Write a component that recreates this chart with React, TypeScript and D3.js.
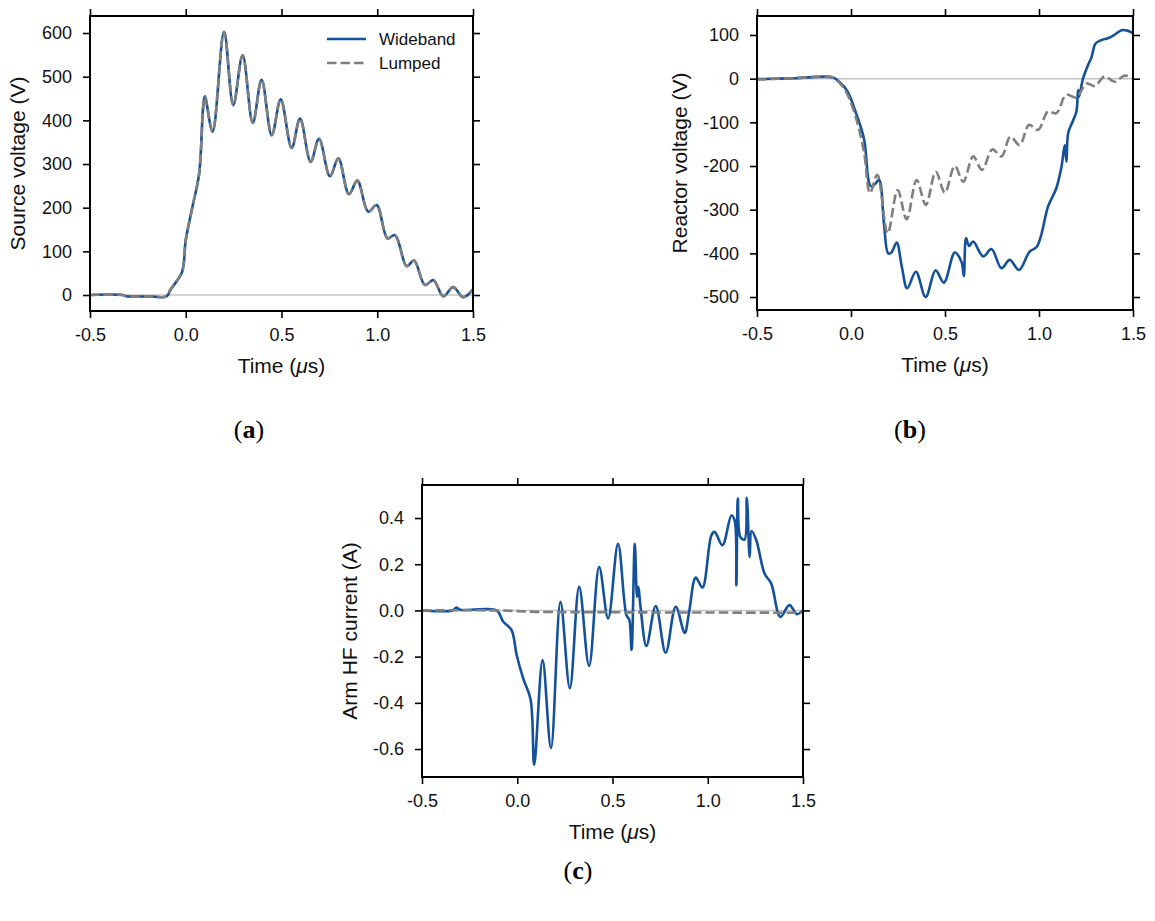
import { useEffect, useRef } from "react";
import type { JSX } from "react";
import * as d3 from "d3";

type Pt = [number, number];

// time in microseconds
const timeTicks = [-0.5, 0, 0.5, 1, 1.5];

const sourceTicks = [0, 100, 200, 300, 400, 500, 600];
const sourceWideband: Pt[] = [
  [-0.5, 0], [-0.33, 0], [-0.31, -3], [-0.2, -3], [-0.1, -3],
  [-0.08, 12], [-0.02, 52], [0.0, 126], [0.035, 202], [0.07, 278],
  [0.091, 431], [0.1, 455], [0.14, 374], [0.2, 603], [0.248, 435],
  [0.297, 549], [0.35, 394], [0.396, 493], [0.449, 366], [0.496, 448],
  [0.553, 337], [0.597, 404], [0.652, 305], [0.696, 358], [0.753, 272],
  [0.797, 313], [0.852, 231], [0.896, 262], [0.953, 191], [0.997, 206],
  [1.053, 130], [1.093, 137], [1.154, 66], [1.192, 79], [1.249, 23],
  [1.293, 34], [1.345, -3], [1.397, 18], [1.449, -5], [1.5, 13],
];
const sourceLumped: Pt[] = sourceWideband.map(([t, v]) => [t, v]);

const reactorTicks = [-500, -400, -300, -200, -100, 0, 100];
const reactorWideband: Pt[] = [
  [-0.5, -1], [-0.3, 1], [-0.1, 3], [-0.06, -8], [-0.02, -28],
  [0.03, -83], [0.07, -140], [0.097, -240], [0.11, -247], [0.13, -240],
  [0.15, -232], [0.175, -330], [0.198, -400], [0.215, -398], [0.243, -375],
  [0.27, -430], [0.299, -480], [0.345, -442], [0.397, -500], [0.45, -439],
  [0.494, -467], [0.552, -398], [0.588, -420], [0.6, -452], [0.612, -365],
  [0.628, -383], [0.65, -373], [0.703, -407], [0.747, -390], [0.8, -434],
  [0.844, -415], [0.894, -438], [0.95, -396], [0.986, -386], [1.01, -361],
  [1.048, -293], [1.092, -251], [1.12, -201], [1.137, -152], [1.146, -190],
  [1.155, -125], [1.18, -97], [1.199, -75], [1.208, -26], [1.213, -41],
  [1.234, 0], [1.26, 30], [1.28, 50], [1.3, 80], [1.33, 88],
  [1.37, 93], [1.4, 100], [1.44, 111], [1.47, 110], [1.5, 104],
];
const reactorLumped: Pt[] = [
  [-0.5, -2], [-0.3, 1], [-0.1, 3], [-0.06, -10], [-0.02, -35],
  [0.03, -95], [0.07, -170], [0.101, -262], [0.14, -220], [0.195, -354],
  [0.248, -255], [0.296, -322], [0.349, -232], [0.398, -289], [0.451, -213],
  [0.499, -261], [0.552, -200], [0.597, -236], [0.65, -178], [0.697, -209],
  [0.752, -162], [0.8, -178], [0.848, -133], [0.897, -152], [0.947, -106],
  [0.995, -117], [1.048, -75], [1.092, -79], [1.145, -37], [1.199, -43],
  [1.252, -11], [1.297, -17], [1.349, 5], [1.402, -7], [1.455, 7],
  [1.5, 1],
];

const armTicks = [-0.6, -0.4, -0.2, 0, 0.2, 0.4];
const armWideband: Pt[] = [
  [-0.5, 0], [-0.34, 0], [-0.32, 0.012], [-0.3, 0.003], [-0.2, 0.005],
  [-0.108, 0], [-0.073, -0.049], [-0.03, -0.085], [-0.003, -0.193], [0.031, -0.294],
  [0.07, -0.385], [0.089, -0.668], [0.133, -0.215], [0.177, -0.596], [0.227, 0.037],
  [0.276, -0.337], [0.325, 0.102], [0.377, -0.24], [0.43, 0.188], [0.477, -0.035],
  [0.529, 0.289], [0.573, -0.02], [0.588, -0.04], [0.6, -0.171], [0.617, 0.289],
  [0.629, 0.059], [0.636, 0.102], [0.647, 0.016], [0.678, -0.154], [0.727, 0.019],
  [0.779, -0.183], [0.832, 0.016], [0.879, -0.097], [0.901, -0.013], [0.937, 0.142],
  [0.972, 0.099], [1.019, 0.325], [1.036, 0.34], [1.077, 0.282], [1.124, 0.411],
  [1.141, 0.39], [1.15, 0.109], [1.158, 0.484], [1.171, 0.318], [1.193, 0.307],
  [1.205, 0.488], [1.22, 0.231], [1.23, 0.344], [1.255, 0.304], [1.298, 0.16],
  [1.333, 0.117], [1.381, -0.028], [1.429, 0.023], [1.468, -0.016], [1.5, 0],
];
const armLumped: Pt[] = [
  [-0.5, 0], [-0.1, 0], [0.1, -0.006], [0.5, -0.008], [1.0, -0.009], [1.5, -0.01],
];

const BLUE = "#13519b";
const GRAY = "#7f7f7f";
const DASH = "9.5,4";
const SANS = "'Liberation Sans', Arial, sans-serif";
const SERIF = "'Liberation Serif', 'DejaVu Serif', serif";

interface PanelDef {
  box: { left: number; right: number; top: number; bottom: number };
  yDomain: [number, number];
  yTicks: number[];
  yFormat: (v: number) => string;
  yLabel: string;
  yLabelX: number;
  wide: Pt[];
  lumped: Pt[];
  letter: string;
  letterPos: [number, number];
  legend?: boolean;
}

const panels: PanelDef[] = [
  {
    box: { left: 90, right: 473, top: 16, bottom: 311 },
    yDomain: [-36.6, 639],
    yTicks: sourceTicks,
    yFormat: (v) => String(v),
    yLabel: "Source voltage (V)",
    yLabelX: 25,
    wide: sourceWideband,
    lumped: sourceLumped,
    letter: "a",
    letterPos: [249, 438],
    legend: true,
  },
  {
    box: { left: 757, right: 1133, top: 16, bottom: 310 },
    yDomain: [-529.7, 143.5],
    yTicks: reactorTicks,
    yFormat: (v) => String(v),
    yLabel: "Reactor voltage (V)",
    yLabelX: 687,
    wide: reactorWideband,
    lumped: reactorLumped,
    letter: "b",
    letterPos: [910, 438],
  },
  {
    box: { left: 422, right: 803, top: 485, bottom: 777 },
    yDomain: [-0.721, 0.543],
    yTicks: armTicks,
    yFormat: (v) => v.toFixed(1),
    yLabel: "Arm HF current (A)",
    yLabelX: 357,
    wide: armWideband,
    lumped: armLumped,
    letter: "c",
    letterPos: [578, 879],
  },
];

export default function App(): JSX.Element {
  const svgRef = useRef<SVGSVGElement>(null);

  useEffect(() => {
    const svgEl = svgRef.current;
    if (!svgEl) return;
    const svg = d3.select(svgEl);
    svg.selectAll("*").remove();

    panels.forEach((p) => {
      const { left, right, top, bottom } = p.box;
      const x = d3.scaleLinear().domain([-0.5, 1.5]).range([left, right]);
      const y = d3.scaleLinear().domain(p.yDomain).range([bottom, top]);
      const g = svg.append("g");

      // zero reference line
      g.append("line")
        .attr("x1", left)
        .attr("x2", right)
        .attr("y1", y(0))
        .attr("y2", y(0))
        .attr("stroke", "#c4c4c4")
        .attr("stroke-width", 1.5);

      const line = d3
        .line<Pt>()
        .x((d) => x(d[0]))
        .y((d) => y(d[1]))
        .curve(d3.curveCatmullRom.alpha(0.5));

      g.append("path")
        .datum(p.wide)
        .attr("fill", "none")
        .attr("stroke", BLUE)
        .attr("stroke-width", 2.6)
        .attr("stroke-linejoin", "round")
        .attr("d", line);
      g.append("path")
        .datum(p.lumped)
        .attr("fill", "none")
        .attr("stroke", GRAY)
        .attr("stroke-width", 2.6)
        .attr("stroke-dasharray", DASH)
        .attr("d", line);

      // axes: outward ticks on all four sides
      const tickLen = 7;
      const axisStyle = (sel: d3.Selection<SVGGElement, unknown, null, undefined>) => {
        sel.select(".domain").remove();
        sel.selectAll(".tick line").attr("stroke", "#000").attr("stroke-width", 1.6);
        sel.selectAll(".tick text")
          .attr("font-family", SANS)
          .attr("font-size", 18)
          .attr("fill", "#111");
      };
      g.append("g")
        .attr("transform", `translate(0,${bottom})`)
        .call(d3.axisBottom(x).tickValues(timeTicks).tickSize(tickLen).tickPadding(10).tickFormat((d) => (+d).toFixed(1)))
        .call(axisStyle);
      g.append("g")
        .attr("transform", `translate(0,${top})`)
        .call(d3.axisTop(x).tickValues(timeTicks).tickSize(tickLen).tickFormat(() => ""))
        .call(axisStyle);
      g.append("g")
        .attr("transform", `translate(${left},0)`)
        .call(d3.axisLeft(y).tickValues(p.yTicks).tickSize(tickLen).tickPadding(11).tickFormat((d) => p.yFormat(+d)))
        .call(axisStyle);
      g.append("g")
        .attr("transform", `translate(${right},0)`)
        .call(d3.axisRight(y).tickValues(p.yTicks).tickSize(tickLen).tickFormat(() => ""))
        .call(axisStyle);

      g.append("rect")
        .attr("x", left)
        .attr("y", top)
        .attr("width", right - left)
        .attr("height", bottom - top)
        .attr("fill", "none")
        .attr("stroke", "#000")
        .attr("stroke-width", 2);

      // x label
      const xl = g.append("text")
        .attr("x", (left + right) / 2)
        .attr("y", bottom + 62)
        .attr("text-anchor", "middle")
        .attr("font-family", SANS)
        .attr("font-size", 21)
        .attr("fill", "#111");
      xl.append("tspan").text("Time (");
      xl.append("tspan").attr("font-style", "italic").text("\u03bc");
      xl.append("tspan").text("s)");

      // y label
      g.append("text")
        .attr("transform", `translate(${p.yLabelX},${(top + bottom) / 2}) rotate(-90)`)
        .attr("text-anchor", "middle")
        .attr("font-family", SANS)
        .attr("font-size", 21)
        .attr("fill", "#111")
        .text(p.yLabel);

      // panel letter
      const lt = g.append("text")
        .attr("x", p.letterPos[0])
        .attr("y", p.letterPos[1])
        .attr("text-anchor", "middle")
        .attr("font-family", SERIF)
        .attr("font-size", 26)
        .attr("fill", "#000");
      lt.append("tspan").text("(");
      lt.append("tspan").attr("font-weight", "bold").text(p.letter);
      lt.append("tspan").text(")");

      if (p.legend) {
        const items = [
          { label: "Wideband", color: BLUE, dash: null as string | null },
          { label: "Lumped", color: GRAY, dash: DASH },
        ];
        items.forEach((it, i) => {
          const ly = 39 + i * 24;
          g.append("line")
            .attr("x1", 327)
            .attr("x2", 366)
            .attr("y1", ly)
            .attr("y2", ly)
            .attr("stroke", it.color)
            .attr("stroke-width", 2.6)
            .attr("stroke-dasharray", it.dash);
          g.append("text")
            .attr("x", 379)
            .attr("y", ly + 6)
            .attr("font-family", SANS)
            .attr("font-size", 17)
            .attr("fill", "#111")
            .text(it.label);
        });
      }
    });
  }, []);

  return (
    <svg
      ref={svgRef}
      width={1155}
      height={921}
      style={{ position: "absolute", left: 0, top: 0, background: "#fff", display: "block" }}
    />
  );
}
